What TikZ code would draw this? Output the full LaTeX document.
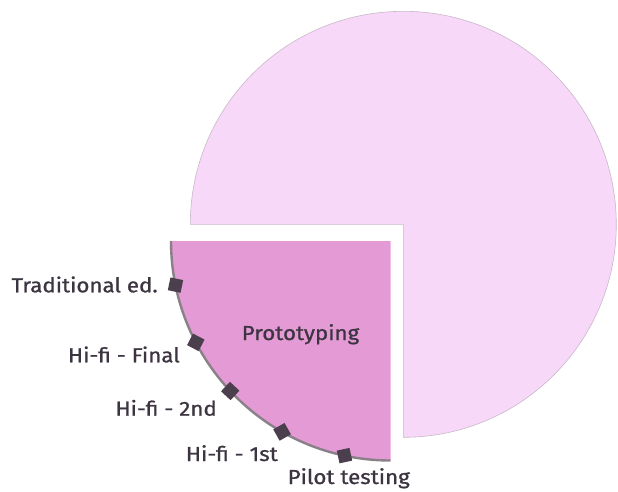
\documentclass[tikz,border=0pt]{standalone}
\usepackage{fontspec}
\usetikzlibrary{calc}
\setmainfont{Fira Sans}[FakeStretch=1.1, FakeBold=0.9]
\definecolor{lightpie}{HTML}{F8D8F8}
\definecolor{darkpie}{HTML}{E49AD5}
\definecolor{pieedge}{HTML}{C8B8C8}
\definecolor{arcgray}{HTML}{8A8088}
\definecolor{marker}{HTML}{4B3F4E}
\definecolor{ink}{HTML}{3C3440}
\tikzset{
  mark box/.style={fill=marker, draw=none, minimum size=13pt, inner sep=0pt, shape=rectangle},
  lbl/.style={text=ink, font=\fontsize{20.3}{22}\selectfont, inner sep=0pt},
}
\begin{document}
\begin{tikzpicture}[x=1pt,y=-1pt]
\useasboundingbox (0,0) rectangle (618,491);
% big pie: three quarters
\coordinate (C1) at (403.3,224.3);
\filldraw[fill=lightpie, draw=pieedge, line width=0.6pt]
  (C1) -- ++(-213,0) arc[start angle=180, end angle=450, radius=213] -- cycle;
% exploded quarter
\coordinate (C2) at (390.5,241);
\fill[darkpie] (C2) -- ++(-219.5,0) arc[start angle=180, end angle=90, radius=219.5] -- cycle;
\draw[arcgray, line width=2.4pt] (C2) ++(-219.5,0) arc[start angle=180, end angle=90, radius=219.5];
% markers
\foreach \ang/\nm in {168.4/m1, 152.5/m2, 136.9/m3, 119.6/m4, 102.1/m5}{
  \node[mark box, rotate=\ang] (\nm) at ($(C2)+(\ang:219.5)$) {};
}
% labels
\node[lbl, anchor=base east] (t1) at (158,292.3) {Traditional ed.};
\node[lbl, anchor=base east] (t2) at (180,362.3) {Hi-fi - Final};
\node[lbl, anchor=base east] (t3) at (217,415.7) {Hi-fi - 2nd};
\node[lbl, anchor=base east] (t4) at (278,461) {Hi-fi - 1st};
\node[lbl, anchor=base east] (t5) at (410,484) {Pilot testing};
\node[lbl, anchor=base] (t6) at (300.5,340) {Prototyping};
\end{tikzpicture}
\end{document}
